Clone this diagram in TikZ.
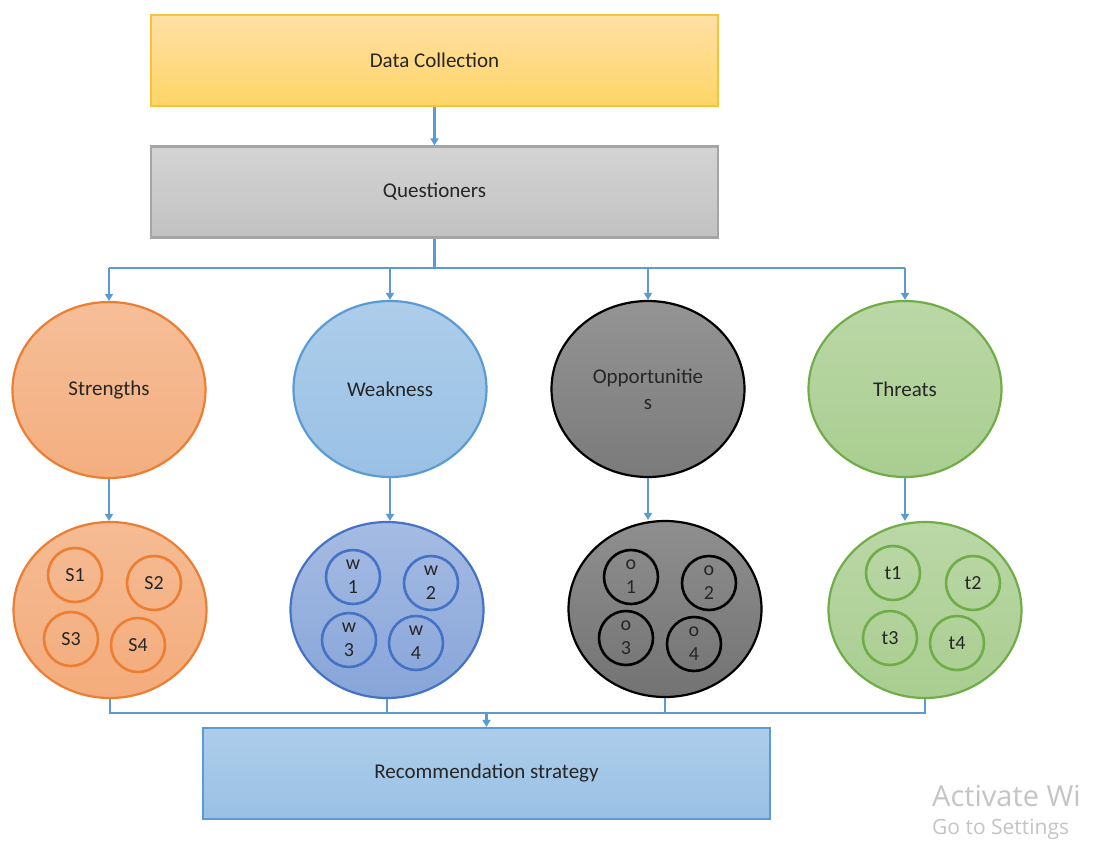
\documentclass[tikz,border=0pt]{standalone}
\usepackage{fontspec}
\setmainfont{Carlito}
\newfontfamily\winfont{Open Sans}
\usetikzlibrary{arrows.meta,shapes.geometric,positioning}
\definecolor{lnblue}{HTML}{5B9BD5}
\definecolor{goldln}{HTML}{F9C339}
\definecolor{greyln}{HTML}{A5A5A5}
\definecolor{orgln}{HTML}{ED7D31}
\definecolor{blueln}{HTML}{5B9BD5}
\definecolor{dblueln}{HTML}{4472C4}
\definecolor{greenln}{HTML}{70AD47}
\definecolor{wmgrey}{HTML}{C4C4C4}
\tikzset{
    box/.style =    {rectangle,
                    line width=2.2pt,
                    text=black!85,
                    minimum width=567pt,
                    minimum height=91pt,
                    font=\fontsize{21}{25}\selectfont},
    swot/.style =   {ellipse,
                    line width=2.2pt,
                    text=black!85,
                    inner sep=0pt,
                    align=center,
                    minimum width=193pt,
                    minimum height=176pt,
                    font=\fontsize{21}{26}\selectfont},
    item/.style =   {circle,
                    line width=2.6pt,
                    text=black!85,
                    inner sep=0pt,
                    align=center,
                    minimum size=54pt,
                    font=\fontsize{20}{24}\selectfont},
    link/.style =   {color=lnblue,
                    line width=2.4pt},
    wmark/.style =  {anchor=base west,
                    text=wmgrey,
                    inner sep=0pt},
    >={Triangle[length=7pt,width=8pt]}}

\begin{document}
\begin{tikzpicture}[x=1pt,y=-1pt]
                \useasboundingbox (0,0) rectangle (1093,841);
                \node[box,draw=goldln,top color=yellow!30!orange!35,bottom color=yellow!45!orange!60]     (dc)  at (434.5,60.5)  {Data Collection};
                \node[box,draw=greyln,top color=black!17,bottom color=black!24]                           (qs)  at (434.5,192)   {Questioners};
                \node[box,draw=blueln,top color=blueln!50,bottom color=blueln!62]                         (rec) at (486.5,773.5) {Recommendation strategy};

                \node[swot,draw=orgln,top color=orgln!50,bottom color=orgln!62]          (st)  at (109,390) {Strengths};
                \node[swot,draw=blueln,top color=blueln!50,bottom color=blueln!62]       (we)  at (390,389) {Weakness};
                \node[swot,draw=black,top color=black!42,bottom color=black!52]          (op)  at (648,389) {Opportunitie\\s};
                \node[swot,draw=greenln,top color=greenln!48,bottom color=greenln!60]    (th)  at (905,389) {Threats};

                \node[swot,draw=orgln,top color=orgln!52,bottom color=orgln!64]          (st2) at (110,610) {};
                \node[swot,draw=dblueln,top color=dblueln!48,bottom color=dblueln!64]    (we2) at (387,610) {};
                \node[swot,draw=black,top color=black!44,bottom color=black!55]          (op2) at (665,609) {};
                \node[swot,draw=greenln,top color=greenln!48,bottom color=greenln!60]    (th2) at (925,610) {};

                \node[item,draw=orgln]    (s1) at ([shift={(-35,-35)}]st2) {S1};
                \node[item,draw=orgln]    (s2) at ([shift={(44,-27)}]st2)  {S2};
                \node[item,draw=orgln]    (s3) at ([shift={(-39,29)}]st2)  {S3};
                \node[item,draw=orgln]    (s4) at ([shift={(28,35)}]st2)   {S4};
                \node[item,draw=dblueln]  (w1) at ([shift={(-34,-33)}]we2) {w\\1};
                \node[item,draw=dblueln]  (w2) at ([shift={(44,-27)}]we2)  {w\\2};
                \node[item,draw=dblueln]  (w3) at ([shift={(-38,30)}]we2)  {w\\3};
                \node[item,draw=dblueln]  (w4) at ([shift={(29,33)}]we2)   {w\\4};
                \node[item,draw=black]    (o1) at ([shift={(-34,-32)}]op2) {o\\1};
                \node[item,draw=black]    (o2) at ([shift={(44,-26)}]op2)  {o\\2};
                \node[item,draw=black]    (o3) at ([shift={(-39,29)}]op2)  {o\\3};
                \node[item,draw=black]    (o4) at ([shift={(29,35)}]op2)   {o\\4};
                \node[item,draw=greenln]  (t1) at ([shift={(-32,-37)}]th2) {t1};
                \node[item,draw=greenln]  (t2) at ([shift={(48,-27)}]th2)  {t2};
                \node[item,draw=greenln]  (t3) at ([shift={(-35,28)}]th2)  {t3};
                \node[item,draw=greenln]  (t4) at ([shift={(32,33)}]th2)   {t4};

                \coordinate (fork) at (434.5,268);
                \coordinate (join) at (486.5,713);

                \path [link,->]  (dc) edge [] (qs);
                \draw [link]     (qs) -- (fork);
                \draw [link]     (st.north |- fork) -- (th.north |- fork);
                \path [link,->]  (st.north |- fork) edge [] (st)
                                 (we.north |- fork) edge [] (we)
                                 (op.north |- fork) edge [] (op)
                                 (th.north |- fork) edge [] (th)
                                 (st.south) edge [] (st.south |- st2.north)
                                 (we.south) edge [] (we.south |- we2.north)
                                 (op.south) edge [] (op.south |- op2.north)
                                 (th.south) edge [] (th.south |- th2.north);
                \draw [link]     (st2.south) -- (st2.south |- join) -- (th2.south |- join) -- (th2.south)
                                 (we2.south) -- (we2.south |- join)
                                 (op2.south) -- (op2.south |- join);
                \path [link,->]  (join) edge [] (rec);

                \node[wmark,font=\winfont\fontsize{29}{33}\selectfont] (act) at (932,806) {Activate Wi};
                \node[wmark,font=\winfont\fontsize{21}{25}\selectfont] (set) at (932,834) {Go to Settings};
        \end{tikzpicture}
\end{document}
